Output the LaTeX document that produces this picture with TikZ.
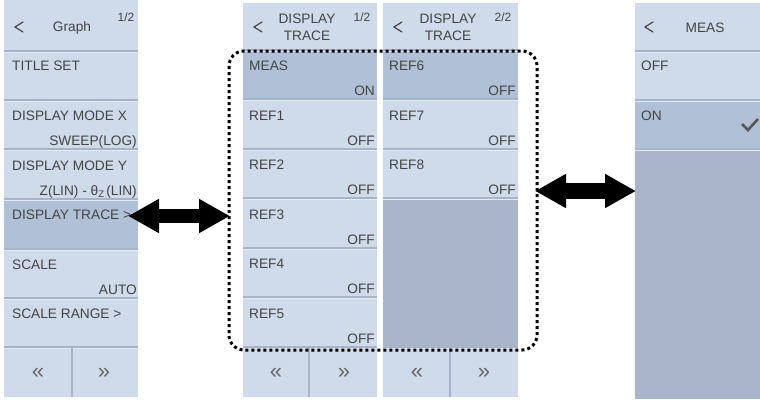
\documentclass[tikz,border=0pt]{standalone}
\usepackage{fontspec}
\setmainfont{Liberation Sans}
\usetikzlibrary{arrows.meta}
\definecolor{rowc}{HTML}{CFDAEA}
\definecolor{selc}{HTML}{B0C1D7}
\definecolor{emptyc}{HTML}{A9B5C9}
\definecolor{sepd}{HTML}{A7B4C8}
\definecolor{sepl}{HTML}{E4EAF3}
\definecolor{txt}{HTML}{444444}
\definecolor{btnc}{HTML}{666666}
\newcommand{\myrow}[5]{%
  \fill[#5] (#1,#3) rectangle (#2,#4);
  \draw[sepd, line width=1.3pt] (#1,#3) -- (#2,#3);
  \draw[sepl, line width=1pt] (#1,#3+1.4) -- (#2,#3+1.4);
}
\newcommand{\mychev}[2]{%
  \draw[txt, line width=1.2pt, line cap=round, line join=miter] (#1+8,#2) -- (#1,#2+5) -- (#1+8,#2+10);
}
\tikzset{
  lbl/.style={anchor=base west, inner sep=0pt, text=txt, font=\fontsize{13.7}{14}\selectfont},
  val/.style={anchor=base east, inner sep=0pt, text=txt, font=\fontsize{13.7}{14}\selectfont},
  ttl/.style={anchor=base, inner sep=0pt, text=txt, font=\fontsize{13.7}{14}\selectfont},
  pg/.style={anchor=base, inner sep=0pt, text=txt, font=\fontsize{12}{12}\selectfont},
  nav/.style={anchor=center, inner sep=0pt, text=btnc, font=\fontsize{22}{22}\selectfont},
  fatarrow/.style={line width=#1, {Triangle[length=31pt,width=32pt]}-{Triangle[length=31pt,width=32pt]}},
  dotbox/.style={line width=3pt, dash pattern=on 3pt off 3pt, rounded corners=15pt},
  btnsep/.style={sepd, line width=1.5pt}
}
\begin{document}
\begin{tikzpicture}[x=1pt,y=-1pt]
\useasboundingbox (0,0) rectangle (760,399);
\fill[white] (0,0) rectangle (760,399);

% ---------- left panel (Graph) ----------
\fill[rowc] (4,0) rectangle (138,51);
\myrow{4}{138}{51}{100}{rowc}
\myrow{4}{138}{100}{149}{rowc}
\myrow{4}{138}{149}{199}{rowc}
\myrow{4}{138}{199}{249}{selc}
\myrow{4}{138}{249}{298}{rowc}
\myrow{4}{138}{298}{347}{rowc}
\myrow{4}{138}{347}{397}{rowc}
\draw[btnsep] (72,348) -- (72,397);
\mychev{15}{22}
\node[ttl] (gtitle) at (72,31) {Graph};
\node[pg] (gpage) at (126,21) {1/2};
\node[lbl] (g1) at (12,70) {TITLE SET};
\node[lbl] (g2) at (12,120) {DISPLAY MODE X};
\node[val] (g2v) at (137,145) {SWEEP(LOG)};
\node[lbl] (g3) at (12,170) {DISPLAY MODE Y};
\node[val] (g3v) at (137,195) {Z(LIN) - θ\raisebox{-2.5pt}{\fontsize{9.5}{10}\selectfont Z}\,(LIN)};
\node[lbl] (g4) at (12,219) {DISPLAY TRACE >};
\node[lbl] (g5) at (12,269) {SCALE};
\node[val] (g5v) at (137,294) {AUTO};
\node[lbl] (g6) at (12,318) {SCALE RANGE >};
\node[nav] (gprev) at (38,373) {«};
\node[nav] (gnext) at (104,373) {»};

% ---------- middle panel 1 ----------
\fill[rowc] (243,3) rectangle (377,50);
\myrow{243}{377}{50}{99}{selc}
\myrow{243}{377}{99}{149}{rowc}
\myrow{243}{377}{149}{198}{rowc}
\myrow{243}{377}{198}{248}{rowc}
\myrow{243}{377}{248}{297}{rowc}
\myrow{243}{377}{297}{347}{rowc}
\myrow{243}{377}{347}{397}{rowc}
\draw[btnsep] (309,348) -- (309,397);
\mychev{254}{22}
\node[ttl] (m1t1) at (307,23) {DISPLAY};
\node[ttl] (m1t2) at (307,40) {TRACE};
\node[pg] (m1pg) at (362,21) {1/2};
\node[lbl] (meas) at (249,70) {MEAS};
\node[val] (measv) at (375,95) {ON};
\node[lbl] (r1) at (249,120) {REF1};
\node[val] (r1v) at (375,145) {OFF};
\node[lbl] (r2) at (249,169) {REF2};
\node[val] (r2v) at (375,194) {OFF};
\node[lbl] (r3) at (249,219) {REF3};
\node[val] (r3v) at (375,244) {OFF};
\node[lbl] (r4) at (249,268) {REF4};
\node[val] (r4v) at (375,293) {OFF};
\node[lbl] (r5) at (249,318) {REF5};
\node[val] (r5v) at (375,343) {OFF};
\node[nav] (m1prev) at (276,373) {«};
\node[nav] (m1next) at (344,373) {»};

% ---------- middle panel 2 ----------
\fill[rowc] (383,3) rectangle (518,50);
\myrow{383}{518}{50}{99}{selc}
\myrow{383}{518}{99}{149}{rowc}
\myrow{383}{518}{149}{198}{rowc}
\myrow{383}{518}{198}{347}{emptyc}
\myrow{383}{518}{347}{397}{rowc}
\draw[btnsep] (450,348) -- (450,397);
\mychev{394}{22}
\node[ttl] (m2t1) at (448,23) {DISPLAY};
\node[ttl] (m2t2) at (448,40) {TRACE};
\node[pg] (m2pg) at (503,21) {2/2};
\node[lbl] (r6) at (389,70) {REF6};
\node[val] (r6v) at (516,95) {OFF};
\node[lbl] (r7) at (389,120) {REF7};
\node[val] (r7v) at (516,145) {OFF};
\node[lbl] (r8) at (389,169) {REF8};
\node[val] (r8v) at (516,194) {OFF};
\node[nav] (m2prev) at (417,373) {«};
\node[nav] (m2next) at (484,373) {»};

% ---------- right panel (MEAS) ----------
\fill[rowc] (635,3) rectangle (760,51);
\myrow{635}{760}{51}{100}{rowc}
\myrow{635}{760}{100}{149}{selc}
\myrow{635}{760}{149}{399}{emptyc}
\mychev{645}{22}
\node[ttl] (rtitle) at (705,32) {MEAS};
\node[lbl] (roff) at (641,70) {OFF};
\node[lbl] (ron) at (641,120) {ON};
\draw[txt!90, line width=2.6pt, line join=miter] (742,124) -- (748,130) -- (758,119);

% ---------- dotted frame ----------
\draw[dotbox] (229,51) rectangle (537,350);

% ---------- arrows ----------
\coordinate (la) at (128,216);
\coordinate (lb) at (230,216);
\coordinate (ra) at (535,191);
\coordinate (rb) at (636,191);
\draw[fatarrow=14pt] (la) -- (lb);
\draw[fatarrow=16pt] (ra) -- (rb);
\end{tikzpicture}
\end{document}
